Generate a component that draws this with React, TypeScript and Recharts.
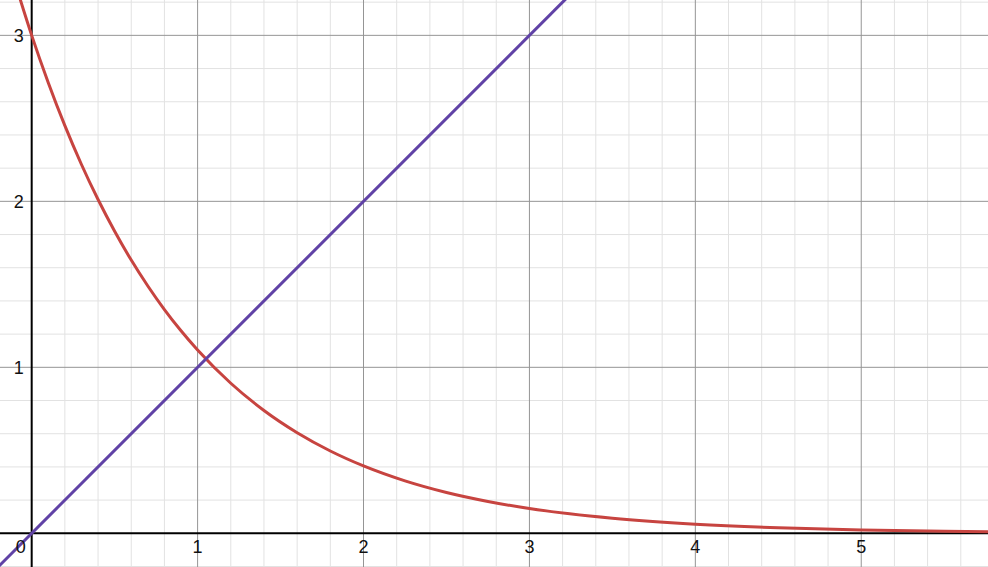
import React from "react";
import {
  LineChart,
  Line,
  XAxis,
  YAxis,
  ReferenceLine,
  ReferenceDot,
} from "recharts";

// red curve
const redX = [-0.1, 0, 0.1, 0.2, 0.3, 0.4, 0.5, 0.6, 0.7, 0.8, 0.9, 1.0, 1.2, 1.4, 1.6, 1.8, 2.0, 2.25, 2.5, 2.75, 3.0, 3.5, 4.0, 4.5, 5.0, 5.5, 5.8];
const redY = [3.316, 3.0, 2.715, 2.456, 2.222, 2.011, 1.82, 1.646, 1.49, 1.348, 1.22, 1.104, 0.904, 0.74, 0.606, 0.496, 0.406, 0.316, 0.246, 0.192, 0.149, 0.091, 0.055, 0.033, 0.02, 0.012, 0.009];

// purple straight line
const purpleX = [-0.25, 3.3];
const purpleY = [-0.25, 3.3];

// axes / grid
const xDomain = [-0.191, 5.764];
const yDomain = [-0.203, 3.213];
const xMajor = [1, 2, 3, 4, 5];
const yMajor = [1, 2, 3];
const xLabels = ["1", "2", "3", "4", "5"];
const yLabels = ["1", "2", "3"];
const minorStep = 0.2;

const redData = redX.map((x, i) => ({ x, y: redY[i] }));
const purpleData = purpleX.map((x, i) => ({ x, y: purpleY[i] }));

const minorX: number[] = [];
for (let i = 1; i * minorStep < xDomain[1]; i++) {
  if (i % 5 !== 0) minorX.push(+(i * minorStep).toFixed(2));
}
const minorY: number[] = [-0.2];
for (let i = 1; i * minorStep < yDomain[1]; i++) {
  if (i % 5 !== 0) minorY.push(+(i * minorStep).toFixed(2));
}

const font = "Arial, 'Liberation Sans', sans-serif";

const tickText = (text: string, dx: number, dy: number, anchor: string) => (props: any) => {
  const vb = props.viewBox || {};
  const cx = (vb.x ?? 0) + (vb.width ?? 0) / 2;
  const cy = (vb.y ?? 0) + (vb.height ?? 0) / 2;
  return (
    <text
      x={cx + dx}
      y={cy + dy}
      textAnchor={anchor}
      fontFamily={font}
      fill="#111"
      style={{ fontSize: 18 }}
    >
      {text}
    </text>
  );
};

export default function App() {
  return (
    <div style={{ position: "absolute", left: 0, top: 0, width: 988, height: 567, background: "#fff" }}>
      <LineChart width={988} height={567} margin={{ top: 0, right: 0, bottom: 0, left: 0 }}>
        <XAxis type="number" dataKey="x" domain={xDomain} allowDataOverflow hide />
        <YAxis type="number" dataKey="y" domain={yDomain} allowDataOverflow hide />

        {minorX.map((v) => (
          <ReferenceLine key={"mx" + v} x={v} stroke="#e2e2e2" strokeWidth={1} />
        ))}
        {minorY.map((v) => (
          <ReferenceLine key={"my" + v} y={v} stroke="#e2e2e2" strokeWidth={1} />
        ))}
        {xMajor.map((v) => (
          <ReferenceLine key={"Mx" + v} x={v} stroke="#959595" strokeWidth={1} />
        ))}
        {yMajor.map((v) => (
          <ReferenceLine key={"My" + v} y={v} stroke="#959595" strokeWidth={1} />
        ))}
        <ReferenceLine x={0} stroke="#000" strokeWidth={2} />
        <ReferenceLine y={0} stroke="#000" strokeWidth={2} />

        {xMajor.map((v, i) => (
          <ReferenceDot key={"lx" + v} x={v} y={0} r={0} stroke="none" fill="none" label={tickText(xLabels[i], 0, 20, "middle")} />
        ))}
        {yMajor.map((v, i) => (
          <ReferenceDot key={"ly" + v} x={0} y={v} r={0} stroke="none" fill="none" label={tickText(yLabels[i], -8, 6.5, "end")} />
        ))}
        <ReferenceDot x={0} y={0} r={0} stroke="none" fill="none" label={tickText("0", -11, 20, "middle")} />

        <Line
          data={redData}
          dataKey="y"
          type="monotone"
          stroke="#c74440"
          strokeWidth={3}
          dot={false}
          activeDot={false}
          isAnimationActive={false}
        />
        <Line
          data={purpleData}
          dataKey="y"
          type="linear"
          stroke="#6042a6"
          strokeWidth={3}
          dot={false}
          activeDot={false}
          isAnimationActive={false}
        />
      </LineChart>
    </div>
  );
}
